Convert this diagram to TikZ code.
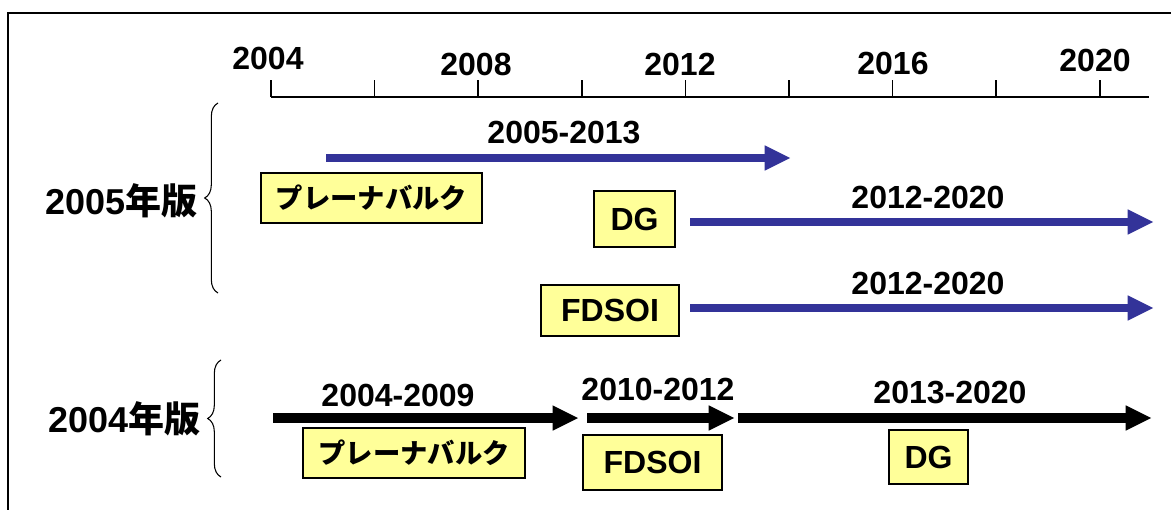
\documentclass[tikz,border=0pt]{standalone}
\usepackage{fontspec}
\setmainfont{Liberation Sans}
\newfontfamily\jp{Noto Sans CJK JP}
\usetikzlibrary{arrows.meta,decorations.pathreplacing}
\definecolor{barblue}{RGB}{51,51,153}
\definecolor{boxyellow}{RGB}{255,255,153}
\begin{document}
\begin{tikzpicture}[x=0.75pt,y=-0.75pt,
  num/.style={font=\fontsize{24}{28}\selectfont\bfseries, inner sep=0pt},
  tbox/.style={draw=black, line width=0.9pt, fill=boxyellow, inner sep=0pt,
    font=\fontsize{24}{28}\selectfont\bfseries},
  jbox/.style={tbox, font=\jp\bfseries\fontsize{20.5}{24}\selectfont},
  bluebar/.style={draw=barblue, line width=6pt,
    -{Triangle[length=19pt,width=19pt,line width=0pt]}},
  blackbar/.style={draw=black, line width=7pt,
    -{Triangle[length=19pt,width=19pt,line width=0pt]}},
  bracestyle/.style={decorate, decoration={brace, amplitude=10pt}, line width=0.8pt},
  edition/.style={anchor=east, inner sep=0pt, font=\fontsize{27}{32}\selectfont\bfseries}]
\useasboundingbox (0,0) rectangle (1171,510);
% frame
\draw[line width=1.1pt] (8,510) -- (8,13) -- (1171,13);
% axis
\draw[line width=1.1pt] (271,97) -- (1149,97);
\foreach \i in {0,...,8}
  \draw[line width=1.1pt] ({271+\i*103.6},97) -- ++(0,-17);
\node[num] (y2004) at (268,58) {2004};
\node[num] (y2008) at (476,64) {2008};
\node[num] (y2012) at (680,64) {2012};
\node[num] (y2016) at (893,63) {2016};
\node[num] (y2020) at (1095,60) {2020};
% editions
\node[edition] (e2005) at (198,201) {2005{\jp\bfseries 年版}};
\node[edition] (e2004) at (201,419) {2004{\jp\bfseries 年版}};
\draw[bracestyle] (218,293) -- (218,103);
\draw[bracestyle] (221,477) -- (221,360);
% 2005 boxes
\node[jbox, minimum width=165.75pt, minimum height=37.5pt] (pb05) at (371.5,198) {プレーナバルク};
\node[tbox, minimum width=60.75pt, minimum height=42pt] (dg05) at (634.5,219) {DG};
\node[tbox, minimum width=103.5pt, minimum height=38.25pt] (fd05) at (610,310.5) {FDSOI};
% 2005 arrows
\coordinate (a1s) at (326,158); \coordinate (a1e) at (790,158);
\coordinate (a2s) at (690,222); \coordinate (a2e) at (1153,222);
\coordinate (a3s) at (690,308); \coordinate (a3e) at (1153,308);
\draw[bluebar] (a1s) -- (a1e);
\draw[bluebar] (a2s) -- (a2e);
\draw[bluebar] (a3s) -- (a3e);
\node[num] (l1) at (564,133) {2005-2013};
\node[num] (l2) at (928,197) {2012-2020};
\node[num] (l3) at (928,283) {2012-2020};
% 2004 boxes
\node[jbox, minimum width=166.5pt, minimum height=37.5pt] (pb04) at (414,453) {プレーナバルク};
\node[tbox, minimum width=104.25pt, minimum height=41.25pt] (fd04) at (652.5,462.5) {FDSOI};
\node[tbox, minimum width=59.25pt, minimum height=40.5pt] (dg04) at (928.5,457) {DG};
% 2004 arrows
\coordinate (b1s) at (273,418); \coordinate (b1e) at (578,418);
\coordinate (b2s) at (587,418); \coordinate (b2e) at (734,418);
\coordinate (b3s) at (738,418); \coordinate (b3e) at (1151,418);
\draw[blackbar] (b1s) -- (b1e);
\draw[blackbar] (b2s) -- (b2e);
\draw[blackbar] (b3s) -- (b3e);
\node[num] (m1) at (398,395) {2004-2009};
\node[num] (m2) at (658,389) {2010-2012};
\node[num] (m3) at (950,393) {2013-2020};
\end{tikzpicture}
\end{document}
